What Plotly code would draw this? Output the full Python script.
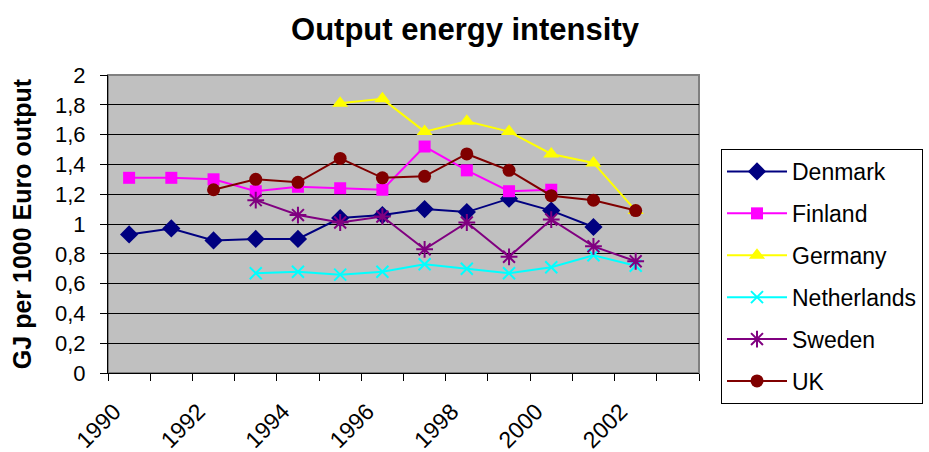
import plotly.graph_objects as go

years = list(range(1990, 2004))
label_years = list(range(1990, 2003, 2))

denmark = [0.93, 0.97, 0.89, 0.90, 0.90, 1.04, 1.06, 1.10, 1.08, 1.17, 1.09, 0.98, None, None]
finland = [1.31, 1.31, 1.30, 1.22, 1.25, 1.24, 1.23, 1.52, 1.36, 1.22, 1.23, None, None, None]
germany = [None, None, None, None, None, 1.81, 1.84, 1.62, 1.69, 1.62, 1.47, 1.41, 1.09, None]
netherlands = [None, None, None, 0.67, 0.68, 0.66, 0.68, 0.73, 0.70, 0.67, 0.71, 0.79, 0.72, None]
sweden = [None, None, None, 1.16, 1.06, 1.01, 1.05, 0.83, 1.01, 0.78, 1.03, 0.85, 0.75, None]
uk = [None, None, 1.23, 1.30, 1.28, 1.44, 1.31, 1.32, 1.47, 1.36, 1.19, 1.16, 1.09, None]

series = [
    ("Denmark", denmark, "#000080", "diamond", 14),
    ("Finland", finland, "#FF00FF", "square", 12),
    ("Germany", germany, "#FFFF00", "triangle-up", 14),
    ("Netherlands", netherlands, "#00FFFF", "x-thin", 12),
    ("Sweden", sweden, "#800080", "asterisk", 14),
    ("UK", uk, "#800000", "circle", 13),
]

fig = go.Figure()
for name, vals, color, symbol, size in series:
    line_marker = symbol in ("x-thin", "asterisk")
    fig.add_trace(go.Scatter(
        x=years, y=vals, name=name, mode="lines+markers",
        legendgroup=name,
        line=dict(color=color, width=2),
        marker=dict(symbol=symbol, size=size, color=color,
                    line=dict(color=color, width=2 if line_marker else 0)),
    ))

font_family = "Liberation Sans, Arial, sans-serif"

# grey plot panel with a darker frame
fig.add_shape(type="rect", xref="paper", yref="paper", x0=0, y0=0, x1=1, y1=1,
              line=dict(color="#808080", width=2), fillcolor="#C0C0C0", layer="below")

fig.update_layout(
    width=929, height=452,
    margin=dict(l=108, r=230, t=75, b=79, autoexpand=False),
    paper_bgcolor="white", plot_bgcolor="#C0C0C0",
    separators=",.",
    font=dict(family=font_family, color="black", size=22),
    title=dict(text="<b>Output energy intensity</b>", x=465 / 929, xref="container",
               xanchor="center", y=1 - 29 / 452, yanchor="middle",
               font=dict(size=31, family=font_family, color="black")),
    showlegend=True,
    legend=dict(x=(721 - 108) / 591, xanchor="left", y=(373 - 149) / 298, yanchor="top",
                bgcolor="white", bordercolor="black", borderwidth=1,
                font=dict(size=23, family=font_family, color="black"),
                itemwidth=60,
                traceorder="grouped", tracegroupgap=9),
)

fig.update_xaxes(
    range=[1989.5, 2003.5], tickvals=label_years, ticktext=[str(y) for y in label_years],
    tickangle=-45, ticks="", showgrid=False, zeroline=False, automargin=False,
    showline=True, linecolor="black", linewidth=1,
    tickfont=dict(size=23), ticklabelstandoff=15, ticklabelshift=-15,
    minor=dict(tick0=1989.5, dtick=1, ticks="outside", ticklen=7, tickcolor="black", showgrid=False),
)
fig.update_yaxes(
    range=[0, 2], dtick=0.2, tick0=0, automargin=False,
    ticks="outside", ticklen=7, tickcolor="black",
    showgrid=True, gridcolor="black", gridwidth=1, zeroline=False,
    showline=True, linecolor="black", linewidth=1,
    tickfont=dict(size=22), ticklabelstandoff=10,
    title=dict(text="<b>GJ per 1000 Euro output</b>", standoff=16,
               font=dict(size=25, family=font_family, color="black")),
)

fig.write_html("out.html")
